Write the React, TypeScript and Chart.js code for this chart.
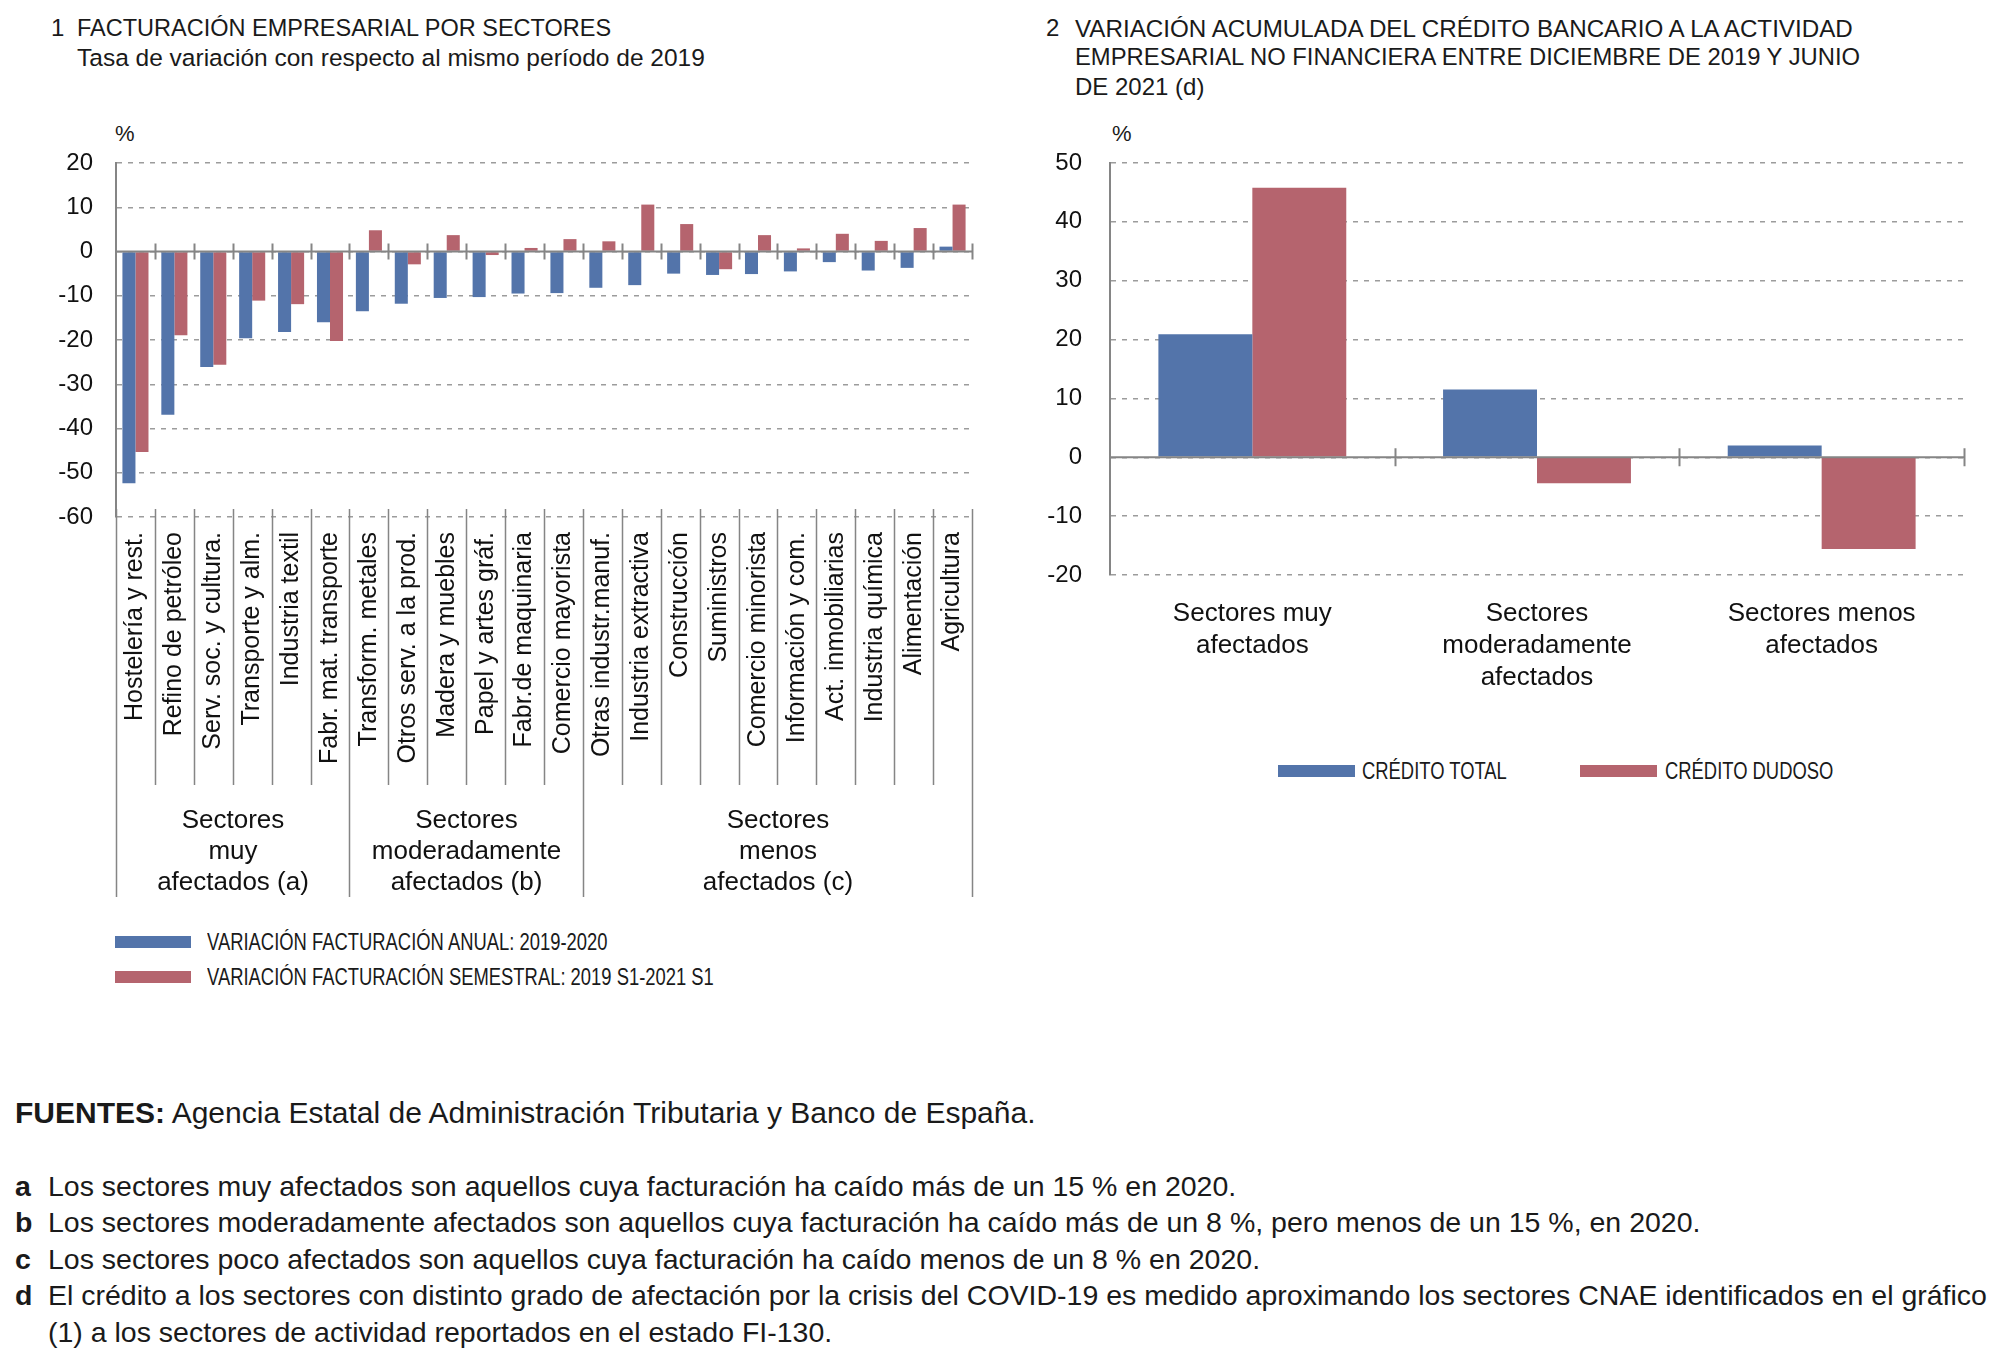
import React, { useEffect, useRef } from "react";
import { Chart, registerables } from "chart.js";

Chart.register(...registerables);

const FONT = "'Liberation Sans', Arial, Helvetica, sans-serif";
const BLUE = "#5374aa";
const RED = "#b5646e";

// ---- Chart 1 data ----
const sectors = [
  "Hostelería y rest.",
  "Refino de petróleo",
  "Serv. soc. y cultura.",
  "Transporte y alm.",
  "Industria textil",
  "Fabr. mat. transporte",
  "Transform. metales",
  "Otros serv. a la prod.",
  "Madera y muebles",
  "Papel y artes gráf.",
  "Fabr.de maquinaria",
  "Comercio mayorista",
  "Otras industr.manuf.",
  "Industria extractiva",
  "Construcción",
  "Suministros",
  "Comercio minorista",
  "Información y com.",
  "Act. inmobiliarias",
  "Industria química",
  "Alimentación",
  "Agricultura",
];
const annualVar = [-52.4, -36.9, -26.1, -19.6, -18.2, -16.0, -13.5, -11.8, -10.5, -10.3, -9.5, -9.4, -8.2, -7.6, -5.0, -5.3, -5.1, -4.5, -2.4, -4.3, -3.7, 1.1];
const semesterVar = [-45.3, -18.9, -25.6, -11.1, -11.9, -20.2, 4.8, -2.9, 3.7, -0.8, 0.8, 2.8, 2.3, 10.6, 6.2, -4.0, 3.7, 0.7, 4.0, 2.4, 5.3, 10.6];
const groupLabels = [
  ["Sectores", "muy", "afectados (a)"],
  ["Sectores", "moderadamente", "afectados (b)"],
  ["Sectores", "menos", "afectados (c)"],
];
const groupBounds = [0, 6, 12, 22];
const legend1 = ["VARIACIÓN FACTURACIÓN ANUAL: 2019-2020", "VARIACIÓN FACTURACIÓN SEMESTRAL: 2019 S1-2021 S1"];

// ---- Chart 2 data ----
const creditGroups = [
  ["Sectores muy", "afectados"],
  ["Sectores", "moderadamente", "afectados"],
  ["Sectores menos", "afectados"],
];
const creditTotal = [20.9, 11.5, 2.0];
const creditDoubtful = [45.8, -4.4, -15.6];
const legend2 = ["CRÉDITO TOTAL", "CRÉDITO DUDOSO"];

const GRID = "#9c9c9c";
const AXIS = "#858585";

function zeroLinePlugin(tickHalf: number) {
  return {
    id: "zeroLine",
    afterDatasetsDraw(chart: any) {
      const { ctx, chartArea } = chart;
      const xs = chart.scales.x;
      const ys = chart.scales.y;
      const n = chart.data.labels.length;
      const w = xs.getPixelForValue(1) - xs.getPixelForValue(0);
      const y0 = ys.getPixelForValue(0);
      ctx.save();
      ctx.strokeStyle = AXIS;
      ctx.lineWidth = 2;
      ctx.beginPath();
      ctx.moveTo(chartArea.left, y0);
      ctx.lineTo(chartArea.right, y0);
      for (let i = 1; i <= n; i++) {
        const bx = Math.round(xs.getPixelForValue(i - 1) + w / 2) + 0.5;
        ctx.moveTo(bx, y0 - tickHalf);
        ctx.lineTo(bx, y0 + tickHalf);
      }
      ctx.stroke();
      ctx.restore();
    },
  };
}

const groupPlugin = {
  id: "groups",
  afterDraw(chart: any) {
    const { ctx, chartArea } = chart;
    const xs = chart.scales.x;
    const n = chart.data.labels.length;
    const w = xs.getPixelForValue(1) - xs.getPixelForValue(0);
    const bnd = (i: number) => Math.round(xs.getPixelForValue(0) - w / 2 + i * w) + 0.5;
    ctx.save();
    ctx.strokeStyle = AXIS;
    ctx.lineWidth = 1.5;
    ctx.beginPath();
    for (let i = 0; i <= n; i++) {
      const isGroup = groupBounds.includes(i);
      const x = bnd(i);
      ctx.moveTo(x, chartArea.bottom - 8);
      ctx.lineTo(x, chartArea.bottom + (isGroup ? 380 : 268));
    }
    ctx.stroke();
    ctx.fillStyle = "#111";
    ctx.font = `26px ${FONT}`;
    ctx.textAlign = "center";
    ctx.textBaseline = "middle";
    for (let g = 0; g < groupLabels.length; g++) {
      const cx = (bnd(groupBounds[g]) + bnd(groupBounds[g + 1])) / 2;
      groupLabels[g].forEach((line, k) => {
        ctx.fillText(line, cx, chartArea.bottom + 304 + k * 31);
      });
    }
    ctx.restore();
  },
};

function SectorChart() {
  const ref = useRef<HTMLCanvasElement>(null);
  useEffect(() => {
    const chart = new Chart(ref.current!, {
      type: "bar",
      data: {
        labels: sectors,
        datasets: [
          { label: legend1[0], data: annualVar, backgroundColor: BLUE, borderWidth: 0 },
          { label: legend1[1], data: semesterVar, backgroundColor: RED, borderWidth: 0 },
        ],
      },
      options: {
        animation: false,
        responsive: false,
        devicePixelRatio: 1,
        layout: { padding: { top: 63, right: 38, left: 0, bottom: 0 } },
        plugins: { legend: { display: false }, tooltip: { enabled: false } },
        datasets: { bar: { categoryPercentage: 0.67, barPercentage: 1 } },
        scales: {
          x: {
            grid: { display: false },
            border: { display: false },
            ticks: {
              autoSkip: false,
              minRotation: 90,
              maxRotation: 90,
              padding: 7,
              color: "#111",
              font: { family: FONT, size: 25 },
            },
            afterFit: (s: any) => {
              s.height = 403;
            },
          },
          y: {
            min: -60,
            max: 20,
            ticks: { stepSize: 10, padding: 23, color: "#111", font: { family: FONT, size: 24 } },
            grid: { color: GRID, lineWidth: 1.5, drawTicks: false },
            border: { display: true, color: AXIS, width: 2, dash: [5, 6] },
            afterFit: (s: any) => {
              s.width = 116;
            },
          },
        },
      },
      plugins: [zeroLinePlugin(8), groupPlugin],
    } as any);
    return () => chart.destroy();
  }, []);
  return <canvas ref={ref} width={1010} height={820} style={{ position: "absolute", left: 0, top: 100, width: 1010, height: 820 }} />;
}

function CreditChart() {
  const ref = useRef<HTMLCanvasElement>(null);
  useEffect(() => {
    const chart = new Chart(ref.current!, {
      type: "bar",
      data: {
        labels: creditGroups,
        datasets: [
          { label: legend2[0], data: creditTotal, backgroundColor: BLUE, borderWidth: 0 },
          { label: legend2[1], data: creditDoubtful, backgroundColor: RED, borderWidth: 0 },
        ],
      },
      options: {
        animation: false,
        responsive: false,
        devicePixelRatio: 1,
        layout: { padding: { top: 63, right: 36, left: 0, bottom: 0 } },
        plugins: { legend: { display: false }, tooltip: { enabled: false } },
        datasets: { bar: { categoryPercentage: 0.66, barPercentage: 1 } },
        scales: {
          x: {
            grid: { display: false },
            border: { display: false },
            ticks: {
              autoSkip: false,
              maxRotation: 0,
              padding: 15,
              color: "#111",
              font: { family: FONT, size: 26, lineHeight: 1.23 },
            },
            afterFit: (s: any) => {
              s.height = 145;
            },
          },
          y: {
            min: -20,
            max: 50,
            ticks: { stepSize: 10, padding: 28, color: "#111", font: { family: FONT, size: 24 } },
            grid: { color: GRID, lineWidth: 1.5, drawTicks: false },
            border: { display: true, color: AXIS, width: 2, dash: [5, 6] },
            afterFit: (s: any) => {
              s.width = 70;
            },
          },
        },
      },
      plugins: [zeroLinePlugin(9)],
    } as any);
    return () => chart.destroy();
  }, []);
  return <canvas ref={ref} width={960} height={620} style={{ position: "absolute", left: 1040, top: 100, width: 960, height: 620 }} />;
}

function T(props: { x: number; y: number; size: number; children: any; bold?: boolean; color?: string; sx?: number }) {
  const { x, y, size, children, bold, color, sx } = props;
  return (
    <div
      style={{
        position: "absolute",
        left: x,
        top: y - size * 0.59,
        fontSize: size,
        lineHeight: `${size * 1.2}px`,
        fontFamily: FONT,
        fontWeight: bold ? 700 : 400,
        color: color || "#1a1a1a",
        whiteSpace: "nowrap",
        transform: sx ? `scaleX(${sx})` : undefined,
        transformOrigin: "left center",
      }}
    >
      {children}
    </div>
  );
}

function Swatch(props: { x: number; y: number; w: number; color: string }) {
  return <div style={{ position: "absolute", left: props.x, top: props.y - 6, width: props.w, height: 12, background: props.color }} />;
}

export default function App() {
  return (
    <div style={{ position: "absolute", left: 0, top: 0, width: 2000, height: 1354, background: "#fff", overflow: "hidden" }}>
      {/* Titles chart 1 */}
      <T x={51} y={28} size={24}>1</T>
      <T x={77} y={28} size={23.5}>FACTURACIÓN EMPRESARIAL POR SECTORES</T>
      <T x={77} y={57} size={24.5}>Tasa de variación con respecto al mismo período de 2019</T>
      <T x={115} y={134} size={22}>%</T>
      {/* Titles chart 2 */}
      <T x={1046} y={28} size={24}>2</T>
      <T x={1075} y={28} size={24.2}>VARIACIÓN ACUMULADA DEL CRÉDITO BANCARIO A LA ACTIVIDAD</T>
      <T x={1075} y={57} size={23.8}>EMPRESARIAL NO FINANCIERA ENTRE DICIEMBRE DE 2019 Y JUNIO</T>
      <T x={1075} y={87} size={24}>DE 2021 (d)</T>
      <T x={1112} y={134} size={22}>%</T>

      <SectorChart />
      <CreditChart />

      {/* Legend chart 1 */}
      <Swatch x={115} y={942} w={76} color={BLUE} />
      <T x={207} y={943} size={23} sx={0.8}>{legend1[0]}</T>
      <Swatch x={115} y={977} w={76} color={RED} />
      <T x={207} y={978} size={23} sx={0.8}>{legend1[1]}</T>

      {/* Legend chart 2 */}
      <Swatch x={1278} y={771} w={77} color={BLUE} />
      <T x={1362} y={772} size={23} sx={0.8}>{legend2[0]}</T>
      <Swatch x={1580} y={771} w={77} color={RED} />
      <T x={1665} y={772} size={23} sx={0.8}>{legend2[1]}</T>

      {/* Footnotes */}
      <T x={15} y={1113} size={30}>
        <b>FUENTES:</b> Agencia Estatal de Administración Tributaria y Banco de España.
      </T>
      <T x={15} y={1186} size={28.5} bold>a</T>
      <T x={48} y={1186} size={28.5}>Los sectores muy afectados son aquellos cuya facturación ha caído más de un 15 % en 2020.</T>
      <T x={15} y={1222} size={28.5} bold>b</T>
      <T x={48} y={1222} size={28.5}>Los sectores moderadamente afectados son aquellos cuya facturación ha caído más de un 8 %, pero menos de un 15 %, en 2020.</T>
      <T x={15} y={1259} size={28.5} bold>c</T>
      <T x={48} y={1259} size={28.5}>Los sectores poco afectados son aquellos cuya facturación ha caído menos de un 8 % en 2020.</T>
      <T x={15} y={1295} size={28.5} bold>d</T>
      <T x={48} y={1295} size={28.5}>El crédito a los sectores con distinto grado de afectación por la crisis del COVID-19 es medido aproximando los sectores CNAE identificados en el gráfico</T>
      <T x={48} y={1332} size={28.5}>(1) a los sectores de actividad reportados en el estado FI-130.</T>
    </div>
  );
}
